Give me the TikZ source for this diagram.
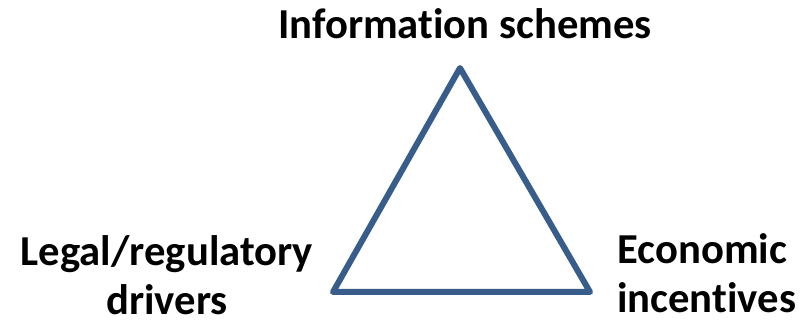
\documentclass[tikz,border=0pt]{standalone}
\usepackage{fontspec}
\setmainfont{Carlito}[Ligatures={NoCommon}]
\usetikzlibrary{positioning}
\definecolor{edgeblue}{RGB}{56,93,138}

\begin{document}
\begin{tikzpicture}[x=0.75pt, y=-0.75pt,
  label/.style={font=\fontsize{32}{34}\selectfont\bfseries, inner sep=0pt}]
  \useasboundingbox (0,0) rectangle (801,324);
  % corners of the triangle
  \coordinate (apex) at (460,68);
  \coordinate (left) at (333,292);
  \coordinate (right) at (590,292);
  \draw[edgeblue, line width=4.5pt, line join=round] (apex) -- (right) -- (left) -- cycle;
  % labels
  \node[label, anchor=base] (info) at (465,39) {Information schemes};
  \node[label, anchor=base, align=center] (legal) at (167,315) {Legal/regulatory\\[3pt]drivers};
  \node[label, anchor=base west, align=left] (econ) at (617,313) {Economic\\[3pt]incentives};
\end{tikzpicture}
\end{document}
